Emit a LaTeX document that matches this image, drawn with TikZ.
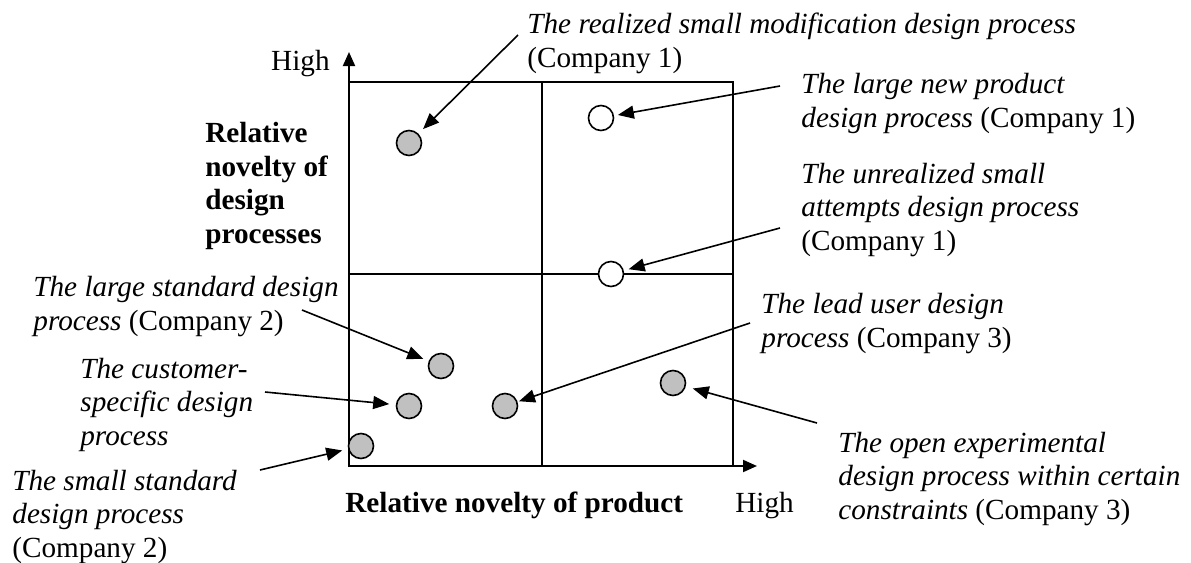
\documentclass[tikz,border=0pt]{standalone}
\usepackage{fontspec}
\setmainfont{Liberation Serif}
\usetikzlibrary{arrows.meta}
\definecolor{dotgray}{RGB}{192,192,192}

\begin{document}
\begin{tikzpicture}[x=0.5pt,y=0.5pt,yscale=-1,xscale=1,
  every node/.style={font=\fontsize{14.6}{16.7}\selectfont},
  lbl/.style={anchor=base west,inner sep=0pt,align=left},
  dot/.style={circle,draw,line width=0.8pt,minimum size=12.5pt,inner sep=0pt,fill=dotgray},
  opendot/.style={dot,fill=white},
  pointer/.style={-{Triangle[length=8pt,width=6.5pt]},line width=0.8pt},
  axis/.style={-{Triangle[length=7pt,width=6pt]},line width=1pt}]
%set diagram size
\useasboundingbox (0,0) rectangle (1191,563);

%Shape: Quadrants
\draw [line width=1pt] (349,82) rectangle (733,466);
\draw [line width=1pt] (542,82) -- (542,466);
\draw [line width=1pt] (349,274) -- (733,274);
%Axes
\coordinate (origin) at (349,466);
\coordinate (ytip) at (349,52);
\coordinate (xtip) at (757,466);
\draw [axis] (origin) -- (ytip);
\draw [axis] (origin) -- (xtip);

%Shape: Circles
\draw (409,143) node (cRealized) [dot] {};
\draw (601,118) node (cLargeNew) [opendot] {};
\draw (611,274) node (cUnrealized) [opendot] {};
\draw (441,366) node (cLargeStd) [dot] {};
\draw (409,406) node (cCustomer) [dot] {};
\draw (505,406) node (cLeadUser) [dot] {};
\draw (673,383) node (cOpenExp) [dot] {};
\draw (361,446) node (cSmallStd) [dot] {};

% Text Node
\draw (330,70) node (yHigh) [lbl, anchor=base east] {High};
% Text Node
\draw (205,243) node (yTitle) [lbl] {\bfseries Relative\\\bfseries novelty of\\\bfseries design\\\bfseries processes};
% Text Node
\draw (345,512) node (xTitle) [lbl] {\bfseries Relative novelty of product};
% Text Node
\draw (735,512) node (xHigh) [lbl] {High};
% Text Node
\draw (527,67) node (tRealized) [lbl] {\textit{The realized small modification design process}\\(Company 1)};
% Text Node
\draw (801,127) node (tLargeNew) [lbl] {\textit{The large new product}\\\textit{design process} (Company 1)};
% Text Node
\draw (801,250) node (tUnrealized) [lbl] {\textit{The unrealized small}\\\textit{attempts design process}\\(Company 1)};
% Text Node
\draw (761,347) node (tLeadUser) [lbl] {\textit{The lead user design}\\\textit{process} (Company 3)};
% Text Node
\draw (838,519) node (tOpenExp) [lbl] {\textit{The open experimental}\\\textit{design process within certain}\\\textit{constraints} (Company 3)};
% Text Node
\draw (33,330) node (tLargeStd) [lbl] {\textit{The large standard design}\\\textit{process} (Company 2)};
% Text Node
\draw (80,445) node (tCustomer) [lbl] {\textit{The customer-}\\\textit{specific design}\\\textit{process}};
% Text Node
\draw (12,557) node (tSmallStd) [lbl] {\textit{The small standard}\\\textit{design process}\\(Company 2)};

%Straight Lines
\coordinate (sRealized) at (518,35);
\coordinate (sLargeNew) at (780,86);
\coordinate (sUnrealized) at (780,228);
\coordinate (sLeadUser) at (750,323);
\coordinate (sLargeStd) at (302,310);
\coordinate (sCustomer) at (265,392);
\coordinate (sSmallStd) at (260,470);
\coordinate (sOpenExp) at (817,423);
\draw [pointer, shorten >=3.25pt] (sRealized) -- (cRealized);
\draw [pointer, shorten >=1.9pt] (sLargeNew) -- (cLargeNew);
\draw [pointer, shorten >=2.5pt] (sUnrealized) -- (cUnrealized);
\draw [pointer, shorten >=0.75pt] (sLeadUser) -- (cLeadUser);
\draw [pointer, shorten >=2.9pt] (sLargeStd) -- (cLargeStd);
\draw [pointer, shorten >=3.3pt] (sCustomer) -- (cCustomer);
\draw [pointer, shorten >=3pt] (sSmallStd) -- (cSmallStd);
\draw [pointer, shorten >=3.6pt] (sOpenExp) -- (cOpenExp);

\end{tikzpicture}
\end{document}
